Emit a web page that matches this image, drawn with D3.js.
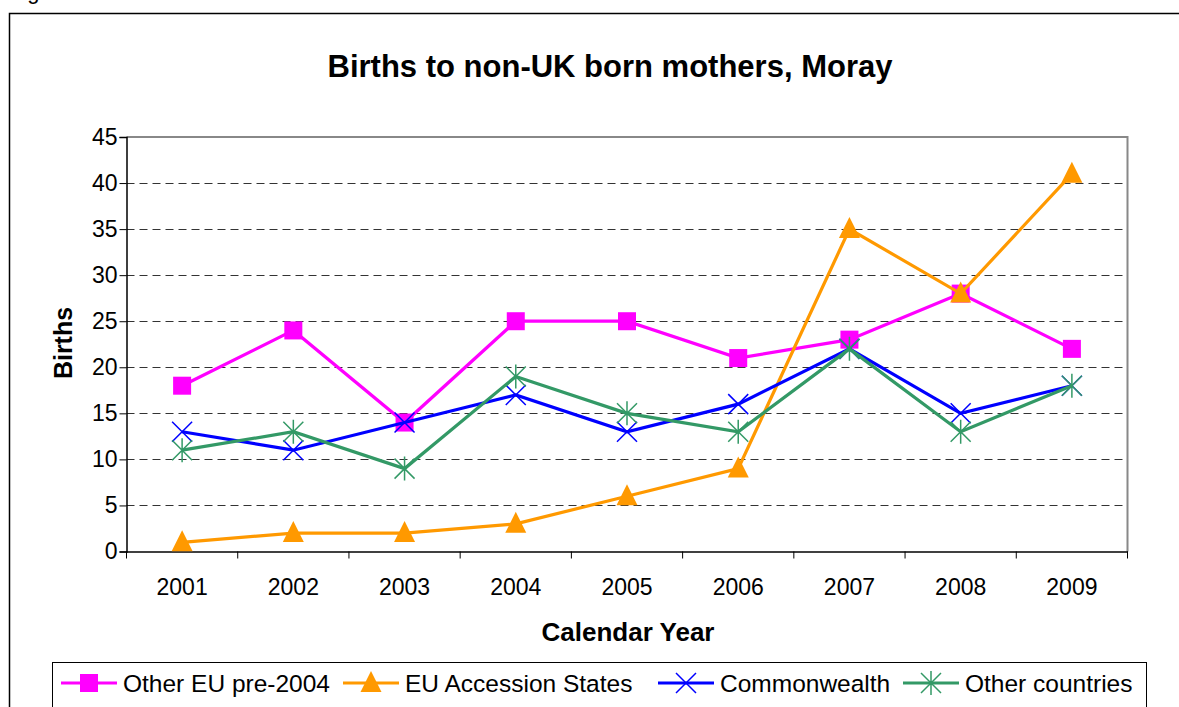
<!DOCTYPE html>
<html lang="en">
  <head>
    <meta charset="utf-8">
    <title>Births to non-UK born mothers, Moray</title>
    <script src="https://d3js.org/d3.v7.min.js"></script>
    <style>
      body { margin: 0; background: #fff; }
      text { font-family: "Liberation Sans", Arial, sans-serif; fill: #000; }
    </style>
  </head>
  <body>
    <div id="chart"></div>
    <script>

      var years = ["2001", "2002", "2003", "2004", "2005", "2006", "2007", "2008", "2009"];
      var otherEU = [18, 24, 14, 25, 25, 21, 23, 28, 22];
      var accession = [1, 2, 2, 3, 6, 9, 35, 28, 41];
      var commonwealth = [13, 11, 14, 17, 13, 16, 22, 15, 18];
      var otherCountries = [11, 13, 9, 19, 15, 13, 22, 13, 18];
      var yTicks = [0, 5, 10, 15, 20, 25, 30, 35, 40, 45];

      var series = [
        {name: "Other EU pre-2004", values: otherEU, color: "#ff00ff", marker: "square"},
        {name: "EU Accession States", values: accession, color: "#ff9900", marker: "triangle"},
        {name: "Commonwealth", values: commonwealth, color: "#0000ff", marker: "x"},
        {name: "Other countries", values: otherCountries, color: "#339966", marker: "star"}
      ];

      var width = 1179;
      var height = 707;
      var margin = {top: 137, left: 126.5, right: 51.5, bottom: 155.5};

      var svg = d3.select("#chart")
        .append("svg")
        .attr("width", width)
        .attr("height", height);

      // outer frame (runs off the right and bottom of the picture)
      svg.append("rect")
        .attr("x", 9.5).attr("y", 13.5)
        .attr("width", 1200).attr("height", 720)
        .attr("fill", "none")
        .attr("stroke", "#000")
        .attr("stroke-width", 1.5);

      svg.append("text")
        .attr("x", 9).attr("y", -1)
        .style("font-size", "22px")
        .text("Fig");

      var xScale = d3.scaleBand()
        .domain(years)
        .range([margin.left, width - margin.right])
        .padding(0);

      var yScale = d3.scaleLinear()
        .domain([0, 45])
        .range([height - margin.bottom, margin.top]);

      function xPos(i) { return xScale(years[i]) + xScale.bandwidth() / 2; }

      // gridlines
      svg.append("g")
        .selectAll("line")
        .data(yTicks.filter(function(d){ return d > 0 && d < 45; }))
        .enter()
        .append("line")
          .attr("x1", margin.left).attr("x2", width - margin.right)
          .attr("y1", function(d){ return Math.round(yScale(d)) + 0.5; })
          .attr("y2", function(d){ return Math.round(yScale(d)) + 0.5; })
          .attr("stroke", "#333")
          .attr("stroke-dasharray", "8,5");

      // plot border (top and right grey)
      svg.append("path")
        .attr("d", `M${margin.left},${margin.top}H${width - margin.right}V${height - margin.bottom}`)
        .attr("fill", "none")
        .attr("stroke", "#888")
        .attr("stroke-width", 2);

      var yAxis = svg.append("g")
        .attr("transform", `translate(${margin.left},0)`)
        .call(d3.axisLeft(yScale).tickValues(yTicks).tickSize(7).tickPadding(2));

      var xAxis = svg.append("g")
        .attr("transform", `translate(0,${height - margin.bottom})`)
        .call(d3.axisBottom(xScale).tickSize(0).tickPadding(27));

      // x tick marks sit between categories
      xAxis.selectAll(".sep")
        .data(d3.range(years.length + 1))
        .enter()
        .append("line")
          .attr("class", "sep")
          .attr("x1", function(i){ return margin.left + i * xScale.bandwidth(); })
          .attr("x2", function(i){ return margin.left + i * xScale.bandwidth(); })
          .attr("y1", 0).attr("y2", 7)
          .attr("stroke", "#000");

      svg.selectAll(".domain").attr("stroke", "#000").attr("stroke-width", 1.5);
      svg.selectAll(".tick line").attr("stroke", "#000");
      svg.selectAll(".tick text")
        .style("font-size", "23px")
        .style("font-family", "'Liberation Sans', Arial, sans-serif");

      // titles
      svg.append("text")
        .attr("x", 610).attr("y", 77)
        .attr("text-anchor", "middle")
        .style("font-size", "31px").style("font-weight", "bold")
        .text("Births to non-UK born mothers, Moray");

      svg.append("text")
        .attr("x", 628).attr("y", 641)
        .attr("text-anchor", "middle")
        .style("font-size", "26px").style("font-weight", "bold")
        .text("Calendar Year");

      svg.append("text")
        .attr("transform", "translate(72,343) rotate(-90)")
        .attr("text-anchor", "middle")
        .style("font-size", "25px").style("font-weight", "bold")
        .text("Births");

      function drawMarker(g, type, color) {
        if (type == "square") {
          g.append("rect").attr("x", -9).attr("y", -9).attr("width", 18).attr("height", 18).attr("fill", color);
        } else if (type == "triangle") {
          g.append("path").attr("d", "M0,-12L10.5,9L-10.5,9Z").attr("fill", color);
        } else if (type == "x") {
          g.append("path").attr("d", "M-10,-10L10,10M-10,10L10,-10").attr("stroke", color).attr("stroke-width", 1.5);
        } else {
          g.append("path").attr("d", "M-10,-10L10,10M-10,10L10,-10M0,-12V12").attr("stroke", color).attr("stroke-width", 1.5);
        }
      }

      var line = d3.line()
        .x(function(d, i){ return xPos(i); })
        .y(function(d){ return yScale(d); });

      series.forEach(function(s){
        svg.append("path")
          .datum(s.values)
          .attr("d", line)
          .attr("fill", "none")
          .attr("stroke", s.color)
          .attr("stroke-width", 3.2);

        s.values.forEach(function(v, i){
          var g = svg.append("g").attr("transform", `translate(${xPos(i)},${yScale(v)})`);
          drawMarker(g, s.marker, s.color);
        });
      });

      // legend
      var legend = svg.append("g");
      legend.append("rect")
        .attr("x", 52.5).attr("y", 662.5)
        .attr("width", 1094).attr("height", 60)
        .attr("fill", "#fff")
        .attr("stroke", "#000");

      var legendX = [61, 343, 658, 903];
      series.forEach(function(s, i){
        var g = legend.append("g").attr("transform", `translate(${legendX[i]},683)`);
        g.append("line").attr("x1", 0).attr("x2", 56).attr("y1", 0).attr("y2", 0)
          .attr("stroke", s.color).attr("stroke-width", 3.2);
        drawMarker(g.append("g").attr("transform", "translate(28,0)"), s.marker, s.color);
        g.append("text")
          .attr("x", 62).attr("y", 9)
          .style("font-size", "24.5px")
          .text(s.name);
      });

    </script>
  </body>
</html>
